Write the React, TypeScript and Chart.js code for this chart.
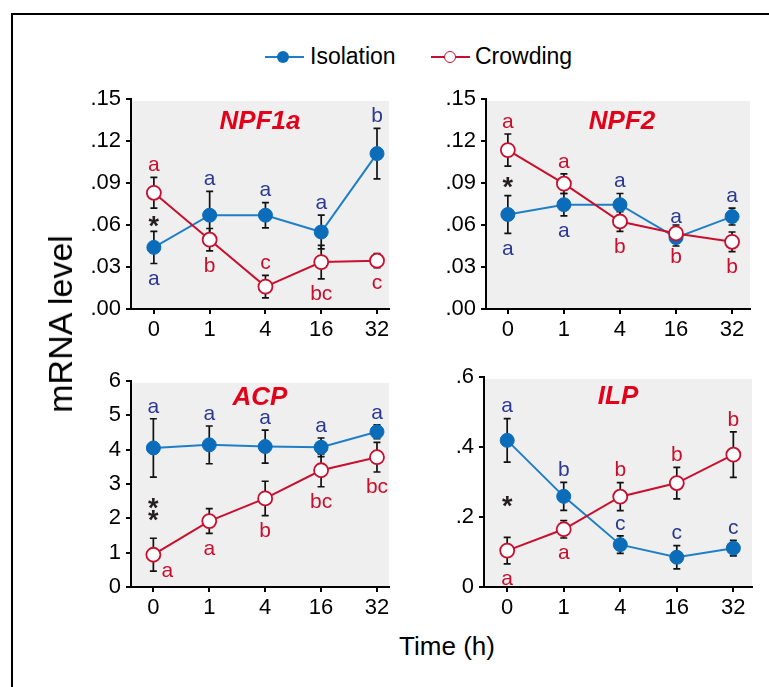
import React, { useEffect, useRef } from 'react';
import { Chart, registerables } from 'chart.js';

Chart.register(...registerables);

// ---------- data ----------
const timeLabels = ['0', '1', '4', '16', '32'];

const npfTicks = [0, 0.03, 0.06, 0.09, 0.12, 0.15];
const npfTickLabels = ['.00', '.03', '.06', '.09', '.12', '.15'];
const acpTicks = [0, 1, 2, 3, 4, 5, 6];
const acpTickLabels = ['0', '1', '2', '3', '4', '5', '6'];
const ilpTicks = [0, 0.2, 0.4, 0.6];
const ilpTickLabels = ['0', '.2', '.4', '.6'];

const npf1aIsolation = [0.044, 0.067, 0.067, 0.055, 0.111];
const npf1aIsolationErr = [0.0115, 0.017, 0.009, 0.012, 0.018];
const npf1aCrowding = [0.083, 0.0495, 0.016, 0.0335, 0.0345];
const npf1aCrowdingErr = [0.011, 0.008, 0.008, 0.012, 0.005];
const npf1aIsolationLetters = ['a', 'a', 'a', 'a', 'b'];
const npf1aIsolationSides = ['below', 'above', 'above', 'above', 'above'];
const npf1aCrowdingLetters = ['a', 'b', 'c', 'bc', 'c'];
const npf1aCrowdingSides = ['above', 'below', 'above', 'below', 'below'];
const npf1aStars = 1;

const npf2Isolation = [0.0675, 0.0745, 0.0745, 0.051, 0.066];
const npf2IsolationErr = [0.0135, 0.008, 0.008, 0.006, 0.006];
const npf2Crowding = [0.1135, 0.0895, 0.0625, 0.054, 0.048];
const npf2CrowdingErr = [0.0115, 0.007, 0.007, 0.006, 0.007];
const npf2IsolationLetters = ['a', 'a', 'a', 'a', 'a'];
const npf2IsolationSides = ['below', 'below', 'above', 'above', 'above'];
const npf2CrowdingLetters = ['a', 'a', 'b', 'b', 'b'];
const npf2CrowdingSides = ['above', 'above', 'below', 'below', 'below'];
const npf2Stars = 1;

const acpIsolation = [4.05, 4.14, 4.09, 4.07, 4.52];
const acpIsolationErr = [0.85, 0.55, 0.48, 0.27, 0.2];
const acpCrowding = [0.94, 1.92, 2.58, 3.4, 3.78];
const acpCrowdingErr = [0.48, 0.36, 0.5, 0.48, 0.43];
const acpIsolationLetters = ['a', 'a', 'a', 'a', 'a'];
const acpIsolationSides = ['above', 'above', 'above', 'above', 'above'];
const acpCrowdingLetters = ['a', 'a', 'b', 'bc', 'bc'];
const acpCrowdingSides = ['right', 'below', 'below', 'below', 'below'];
const acpStars = 2;

const ilpIsolation = [0.419, 0.259, 0.121, 0.085, 0.111];
const ilpIsolationErr = [0.062, 0.04, 0.025, 0.033, 0.022];
const ilpCrowding = [0.104, 0.165, 0.258, 0.297, 0.378];
const ilpCrowdingErr = [0.038, 0.025, 0.04, 0.045, 0.065];
const ilpIsolationLetters = ['a', 'b', 'c', 'c', 'c'];
const ilpIsolationSides = ['above', 'above', 'above', 'above', 'above'];
const ilpCrowdingLetters = ['a', 'a', 'b', 'b', 'b'];
const ilpCrowdingSides = ['below', 'below', 'above', 'above', 'above'];
const ilpStars = 1;

// ---------- styles ----------
const FONT = '"Liberation Sans", Arial, Helvetica, sans-serif';
const BLUE_LINE = '#1f7fc6';
const BLUE_MARK = '#0b6db9';
const RED_LINE = '#c8102e';
const BLUE_TEXT = '#2b3990';
const RED_TEXT = '#c8102e';
const TITLE_RED = '#e3001b';
const PANEL_BG = '#efefef';
const Y_AXIS_W = 60;
const X_AXIS_H = 30;

type Panel = {
  title: string;
  iso: number[]; isoErr: number[];
  crowd: number[]; crowdErr: number[];
  isoLetters: string[]; isoSides: string[];
  crowdLetters: string[]; crowdSides: string[];
  stars: number;
  yTicks: number[]; yLabels: string[];
  box: { left: number; top: number; width: number; height: number };
  area: { l: number; t: number; r: number; b: number };
  xMin: number; xMax: number; titleDx: number; titleDy: number;
};

const panels: Panel[] = [
  {
    title: 'NPF1a', iso: npf1aIsolation, isoErr: npf1aIsolationErr, crowd: npf1aCrowding, crowdErr: npf1aCrowdingErr,
    isoLetters: npf1aIsolationLetters, isoSides: npf1aIsolationSides, crowdLetters: npf1aCrowdingLetters, crowdSides: npf1aCrowdingSides,
    stars: npf1aStars, yTicks: npfTicks, yLabels: npfTickLabels,
    box: { left: 60, top: 80, width: 345, height: 270 }, area: { l: 131, t: 99, r: 389, b: 309 },
    xMin: -0.41, xMax: 4.215, titleDx: 0, titleDy: 23,
  },
  {
    title: 'NPF2', iso: npf2Isolation, isoErr: npf2IsolationErr, crowd: npf2Crowding, crowdErr: npf2CrowdingErr,
    isoLetters: npf2IsolationLetters, isoSides: npf2IsolationSides, crowdLetters: npf2CrowdingLetters, crowdSides: npf2CrowdingSides,
    stars: npf2Stars, yTicks: npfTicks, yLabels: npfTickLabels,
    box: { left: 415, top: 80, width: 354, height: 270 }, area: { l: 486, t: 99, r: 750, b: 309 },
    xMin: -0.39, xMax: 4.32, titleDx: 4, titleDy: 23,
  },
  {
    title: 'ACP', iso: acpIsolation, isoErr: acpIsolationErr, crowd: acpCrowding, crowdErr: acpCrowdingErr,
    isoLetters: acpIsolationLetters, isoSides: acpIsolationSides, crowdLetters: acpCrowdingLetters, crowdSides: acpCrowdingSides,
    stars: acpStars, yTicks: acpTicks, yLabels: acpTickLabels,
    box: { left: 60, top: 360, width: 345, height: 270 }, area: { l: 131, t: 381, r: 389, b: 587 },
    xMin: -0.4, xMax: 4.215, titleDx: 0, titleDy: 17,
  },
  {
    title: 'ILP', iso: ilpIsolation, isoErr: ilpIsolationErr, crowd: ilpCrowding, crowdErr: ilpCrowdingErr,
    isoLetters: ilpIsolationLetters, isoSides: ilpIsolationSides, crowdLetters: ilpCrowdingLetters, crowdSides: ilpCrowdingSides,
    stars: ilpStars, yTicks: ilpTicks, yLabels: ilpTickLabels,
    box: { left: 415, top: 356, width: 354, height: 274 }, area: { l: 484, t: 377, r: 752, b: 587 },
    xMin: -0.41, xMax: 4.33, titleDx: 0, titleDy: 20,
  },
];

const decorPlugin = {
  id: 'panelDecor',
  beforeDraw(chart: any) {
    const { ctx, chartArea: a } = chart;
    ctx.save();
    ctx.fillStyle = PANEL_BG;
    ctx.fillRect(a.left + 1, a.top + 2, a.right - a.left - 1, a.bottom - a.top - 2);
    ctx.restore();
  },
  beforeDatasetsDraw(chart: any, _args: any, opts: any) {
    const p: Panel = opts.panel;
    const { ctx } = chart;
    const xs = chart.scales.x;
    const ys = chart.scales.y;
    ctx.save();
    ctx.strokeStyle = '#111';
    ctx.lineWidth = 1.7;
    const draw = (vals: number[], errs: number[]) => {
      vals.forEach((v, i) => {
        const x = xs.getPixelForValue(i);
        const t = ys.getPixelForValue(v + errs[i]);
        const b = ys.getPixelForValue(v - errs[i]);
        ctx.beginPath();
        ctx.moveTo(x, t); ctx.lineTo(x, b);
        ctx.moveTo(x - 3.5, t); ctx.lineTo(x + 3.5, t);
        ctx.moveTo(x - 3.5, b); ctx.lineTo(x + 3.5, b);
        ctx.stroke();
      });
    };
    draw(p.iso, p.isoErr);
    draw(p.crowd, p.crowdErr);
    ctx.restore();
  },
  afterDatasetsDraw(chart: any, _args: any, opts: any) {
    const p: Panel = opts.panel;
    const { ctx, chartArea: a } = chart;
    const xs = chart.scales.x;
    const ys = chart.scales.y;
    ctx.save();
    ctx.font = `21px ${FONT}`;
    ctx.textAlign = 'center';
    ctx.textBaseline = 'middle';
    const letters = (vals: number[], errs: number[], ls: string[], sides: string[], color: string) => {
      ctx.fillStyle = color;
      vals.forEach((v, i) => {
        const x = xs.getPixelForValue(i);
        const t = ys.getPixelForValue(v + errs[i]);
        const b = ys.getPixelForValue(v - errs[i]);
        if (sides[i] === 'above') ctx.fillText(ls[i], x, t - 12);
        else if (sides[i] === 'below') ctx.fillText(ls[i], x, b + 15.5);
        else ctx.fillText(ls[i], x + 14, b);
      });
    };
    letters(p.iso, p.isoErr, p.isoLetters, p.isoSides, BLUE_TEXT);
    letters(p.crowd, p.crowdErr, p.crowdLetters, p.crowdSides, RED_TEXT);

    // significance asterisks at time 0, between the two error bars
    const isoHigh = p.iso[0] > p.crowd[0];
    const upperBottom = isoHigh ? p.iso[0] - p.isoErr[0] : p.crowd[0] - p.crowdErr[0];
    const lowerTop = isoHigh ? p.crowd[0] + p.crowdErr[0] : p.iso[0] + p.isoErr[0];
    const mid = (ys.getPixelForValue(upperBottom) + ys.getPixelForValue(lowerTop)) / 2;
    ctx.fillStyle = '#231f20';
    ctx.font = `bold 27px ${FONT}`;
    ctx.textBaseline = 'alphabetic';
    const x0 = xs.getPixelForValue(0);
    for (let k = 0; k < p.stars; k++) {
      const off = (k - (p.stars - 1) / 2) * 11.5;
      ctx.fillText('*', x0, mid + off + 15.5);
    }

    // title
    ctx.fillStyle = TITLE_RED;
    ctx.font = `italic bold 26px ${FONT}`;
    ctx.textBaseline = 'middle';
    ctx.fillText(p.title, (a.left + a.right) / 2 + p.titleDx, a.top + p.titleDy);
    ctx.restore();
  },
};

function PanelChart({ p }: { p: Panel }) {
  const ref = useRef<HTMLCanvasElement | null>(null);
  useEffect(() => {
    if (!ref.current) return;
    const pad = {
      left: p.area.l - p.box.left - Y_AXIS_W,
      top: p.area.t - p.box.top,
      right: p.box.left + p.box.width - p.area.r,
      bottom: p.box.top + p.box.height - p.area.b - X_AXIS_H,
    };
    const tickFont = { family: FONT, size: 22 };
    const chart = new Chart(ref.current, {
      type: 'line',
      data: {
        datasets: [
          {
            label: 'Isolation',
            data: p.iso.map((v, i) => ({ x: i, y: v })),
            borderColor: BLUE_LINE,
            backgroundColor: BLUE_MARK,
            pointBackgroundColor: BLUE_MARK,
            pointBorderColor: BLUE_MARK,
            pointRadius: 7,
            pointBorderWidth: 1,
            borderWidth: 2,
            tension: 0,
            order: 1,
            clip: false as any,
          },
          {
            label: 'Crowding',
            data: p.crowd.map((v, i) => ({ x: i, y: v })),
            borderColor: RED_LINE,
            backgroundColor: '#ffffff',
            pointBackgroundColor: '#ffffff',
            pointBorderColor: RED_LINE,
            pointRadius: 7,
            pointBorderWidth: 1.8,
            borderWidth: 2,
            tension: 0,
            order: 0,
            clip: false as any,
          },
        ],
      },
      options: {
        animation: false,
        responsive: false,
        maintainAspectRatio: false,
        events: [],
        layout: { padding: pad },
        plugins: {
          legend: { display: false },
          tooltip: { enabled: false },
          panelDecor: { panel: p },
        } as any,
        scales: {
          x: {
            type: 'linear',
            min: p.xMin,
            max: p.xMax,
            afterBuildTicks: (s: any) => {
              s.ticks = timeLabels.map((_, i) => ({ value: i }));
            },
            afterFit: (s: any) => {
              s.height = X_AXIS_H;
            },
            ticks: {
              callback: (v: any) => timeLabels[Math.round(Number(v))] ?? '',
              font: tickFont,
              color: '#000',
              padding: 3,
              maxRotation: 0,
              autoSkip: false,
            },
            grid: { drawOnChartArea: false, tickLength: 5, color: '#000', lineWidth: 2 },
            border: { color: '#000', width: 2 },
          },
          y: {
            type: 'linear',
            min: p.yTicks[0],
            max: p.yTicks[p.yTicks.length - 1],
            afterBuildTicks: (s: any) => {
              s.ticks = p.yTicks.map((v) => ({ value: v }));
            },
            afterFit: (s: any) => {
              s.width = Y_AXIS_W;
            },
            ticks: {
              callback: (_v: any, i: number) => p.yLabels[i],
              font: tickFont,
              color: '#000',
              padding: 5,
              autoSkip: false,
            },
            grid: { drawOnChartArea: false, tickLength: 5, color: '#000', lineWidth: 2 },
            border: { color: '#000', width: 2 },
          },
        } as any,
      },
      plugins: [decorPlugin],
    });
    return () => chart.destroy();
  }, [p]);
  return (
    <canvas
      ref={ref}
      width={p.box.width}
      height={p.box.height}
      style={{ position: 'absolute', left: p.box.left, top: p.box.top, width: p.box.width, height: p.box.height, display: 'block' }}
    />
  );
}

export default function App() {
  const text: React.CSSProperties = { position: 'absolute', fontFamily: FONT, color: '#000', whiteSpace: 'nowrap', lineHeight: 1 };
  return (
    <div style={{ position: 'absolute', left: 0, top: 0, width: 769, height: 687, overflow: 'hidden', background: '#fff' }}>
      {/* frame */}
      <div style={{ position: 'absolute', left: 11, top: 13, width: 758, height: 1.5, background: '#000' }} />
      <div style={{ position: 'absolute', left: 11, top: 13, width: 1.5, height: 674, background: '#000' }} />

      {/* legend */}
      <div style={{ position: 'absolute', left: 265, top: 56, width: 39, height: 2, background: BLUE_LINE }} />
      <div style={{ position: 'absolute', left: 277, top: 51, width: 12, height: 12, borderRadius: '50%', background: BLUE_MARK }} />
      <div style={{ ...text, left: 310, top: 45, fontSize: 23 }}>Isolation</div>
      <div style={{ position: 'absolute', left: 431, top: 56, width: 39, height: 2, background: RED_LINE }} />
      <div style={{ position: 'absolute', left: 444, top: 51, width: 12, height: 12, borderRadius: '50%', background: '#fff', border: `1.6px solid ${RED_LINE}`, boxSizing: 'border-box' }} />
      <div style={{ ...text, left: 475, top: 45, fontSize: 23 }}>Crowding</div>

      {panels.map((p) => (
        <PanelChart key={p.title} p={p} />
      ))}

      {/* axis titles */}
      <div style={{ ...text, left: 60, top: 324, fontSize: 34, transform: 'translate(-50%, -50%) rotate(-90deg)' }}>mRNA level</div>
      <div style={{ ...text, left: 447, top: 633, fontSize: 26, transform: 'translateX(-50%)' }}>Time (h)</div>
    </div>
  );
}
